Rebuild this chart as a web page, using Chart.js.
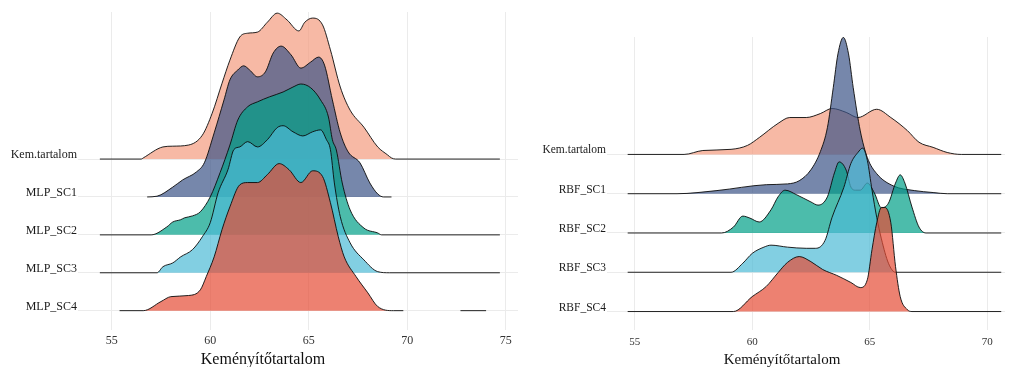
<!DOCTYPE html>
<html>
<head>
<meta charset="utf-8">
<script src="https://cdn.jsdelivr.net/npm/chart.js@4.4.1/dist/chart.umd.min.js"></script>
<style>
body { margin: 0; background: #fff; }
#wrap { position: relative; width: 1012px; height: 367px; }
canvas { position: absolute; top: 0; }
.axis-title { position: absolute; width: 300px; text-align: center; font-family: 'Liberation Serif', serif; color: #111; line-height: 20px; }
</style>
</head>
<body>
<div id="wrap">
    <canvas id="mlp" width="519" height="367" style="left:0"></canvas>
    <canvas id="rbf" width="493" height="367" style="left:519px"></canvas>
    <div class="axis-title" style="left:113px;top:349px;font-size:16px">Keményítőtartalom</div>
    <div class="axis-title" style="left:632px;top:349px;font-size:15px">Keményítőtartalom</div>
</div>
<script>
'use strict'

// categories, top ridge first
const mlpCategories = ['Kem.tartalom', 'MLP_SC1', 'MLP_SC2', 'MLP_SC3', 'MLP_SC4']
const rbfCategories = ['Kem.tartalom', 'RBF_SC1', 'RBF_SC2', 'RBF_SC3', 'RBF_SC4']

const mlpTicks = [55, 60, 65, 70, 75]
const rbfTicks = [55, 60, 65, 70]

// [x, ridge height] (height in ridge spacings)
const mlpKem = [[54.4, 0], [56.5, 0], [56.6, 0.03], [57.6, 0.32], [58.1, 0.34], [58.9, 0.37], [59.6, 0.63], [60.1, 1.21], [60.6, 2.0], [61.0, 2.61], [61.5, 3.22], [61.9, 3.32], [62.4, 3.35], [62.9, 3.61], [63.4, 3.85], [63.9, 3.67], [64.5, 3.38], [64.8, 3.61], [65.2, 3.72], [65.7, 3.54], [66.1, 2.88], [66.6, 1.9], [67.1, 1.29], [67.8, 0.84], [68.5, 0.32], [69.0, 0.11], [69.2, 0.03], [69.4, 0], [74.7, 0]]
const mlpSc1 = [[56.8, 0], [57.3, 0.02], [58.1, 0.26], [58.6, 0.45], [59.3, 0.66], [59.7, 0.9], [60.2, 1.69], [60.7, 2.56], [61.0, 3.09], [61.4, 3.35], [61.7, 3.46], [62.0, 3.35], [62.4, 3.17], [62.8, 3.3], [63.2, 3.8], [63.6, 3.98], [64.1, 3.75], [64.6, 3.4], [65.1, 3.56], [65.5, 3.69], [65.8, 3.48], [66.2, 2.56], [66.6, 1.69], [67.0, 1.19], [67.6, 0.9], [68.1, 0.37], [68.5, 0.08], [68.8, 0], [69.2, 0]]
const mlpSc2 = [[54.4, 0], [57.0, 0], [57.8, 0.21], [58.1, 0.34], [58.5, 0.4], [58.7, 0.45], [59.1, 0.5], [59.5, 0.61], [60.0, 1.0], [60.5, 1.64], [61.0, 2.37], [61.4, 3.03], [61.9, 3.38], [62.4, 3.51], [63.0, 3.64], [63.7, 3.77], [64.2, 3.9], [64.6, 3.98], [65.1, 3.88], [65.6, 3.56], [66.0, 3.11], [66.2, 2.51], [66.4, 2.24], [66.7, 1.37], [67.1, 0.66], [67.8, 0.18], [68.5, 0.05], [68.7, 0], [74.7, 0]]
const mlpSc3 = [[54.4, 0], [57.3, 0], [57.6, 0.16], [58.1, 0.26], [58.5, 0.42], [59.1, 0.61], [59.6, 0.95], [60.0, 1.32], [60.4, 2.11], [60.9, 2.72], [61.2, 3.25], [61.5, 3.32], [61.9, 3.46], [62.4, 3.32], [62.9, 3.51], [63.4, 3.83], [63.7, 3.88], [64.2, 3.72], [64.7, 3.61], [65.2, 3.72], [65.6, 3.77], [65.9, 3.51], [66.1, 3.25], [66.3, 2.37], [66.6, 1.48], [67.1, 0.79], [67.8, 0.34], [68.5, 0.03], [69.1, 0], [74.7, 0]]
const mlpSc4 = [[55.4, 0], [56.6, 0], [57.5, 0.24], [58.0, 0.37], [58.9, 0.4], [59.5, 0.55], [59.8, 0.9], [60.2, 1.42], [60.6, 2.14], [61.0, 2.74], [61.5, 3.32], [61.9, 3.38], [62.4, 3.38], [62.9, 3.59], [63.5, 3.88], [64.0, 3.72], [64.6, 3.38], [65.2, 3.69], [65.7, 3.54], [66.1, 2.85], [66.5, 1.95], [66.8, 1.42], [67.4, 0.9], [68.0, 0.47], [68.5, 0.11], [69.3, 0], [69.8, 0], [71.0, null], [72.7, 0], [74.0, 0]]

const rbfKem = [[54.7, 0], [57.1, 0], [57.9, 0.1], [59.1, 0.13], [59.8, 0.23], [60.3, 0.43], [61.1, 0.79], [61.6, 0.94], [62.3, 0.94], [62.9, 1.04], [63.4, 1.17], [64.0, 1.07], [64.5, 0.94], [65.3, 1.15], [65.9, 0.94], [66.6, 0.61], [67.1, 0.31], [67.7, 0.18], [68.3, 0.05], [68.9, 0], [70.6, 0]]
const rbfSc1 = [[54.7, 0], [56.8, 0], [58.5, 0.08], [60.6, 0.23], [61.5, 0.25], [62.0, 0.33], [62.5, 0.61], [62.9, 1.07], [63.2, 1.68], [63.45, 2.7], [63.65, 3.56], [63.88, 3.98], [64.1, 3.56], [64.3, 2.7], [64.6, 1.6], [64.9, 0.92], [65.3, 0.51], [66.0, 0.2], [66.9, 0.08], [67.7, 0.03], [68.3, 0], [70.6, 0]]
const rbfSc2 = [[54.7, 0], [58.7, 0], [59.2, 0.15], [59.6, 0.43], [59.9, 0.38], [60.3, 0.28], [60.8, 0.59], [61.1, 0.92], [61.4, 1.09], [61.9, 0.97], [62.5, 0.79], [62.8, 0.71], [63.2, 0.92], [63.5, 1.53], [63.7, 1.81], [64.0, 1.6], [64.2, 1.17], [64.4, 1.09], [64.6, 1.09], [64.9, 1.27], [65.2, 1.02], [65.5, 0.64], [65.8, 0.76], [66.1, 1.27], [66.3, 1.48], [66.5, 1.27], [66.8, 0.66], [67.1, 0.15], [67.4, 0], [70.6, 0]]
const rbfSc3 = [[54.7, 0], [59.1, 0], [59.6, 0.23], [60.0, 0.48], [60.5, 0.64], [60.8, 0.69], [61.5, 0.64], [62.3, 0.61], [62.7, 0.61], [63.1, 0.81], [63.4, 1.4], [63.9, 2.16], [64.2, 2.77], [64.5, 3.05], [64.7, 3.16], [64.9, 2.85], [65.1, 2.09], [65.3, 1.4], [65.5, 0.85], [65.8, 0.23], [66.1, 0], [70.6, 0]]
const rbfSc4 = [[54.7, 0], [59.2, 0], [60.0, 0.38], [60.6, 0.64], [61.1, 0.99], [61.5, 1.25], [62.0, 1.4], [62.5, 1.27], [63.0, 1.07], [63.6, 0.92], [64.2, 0.74], [64.6, 0.61], [64.9, 0.81], [65.1, 1.58], [65.3, 2.26], [65.5, 2.65], [65.65, 2.65], [65.9, 2.26], [66.1, 1.15], [66.3, 0.38], [66.6, 0.05], [66.8, 0], [70.6, 0]]

// npg palette, alpha 0.7
const fills = ['rgba(243,155,127,0.7)', 'rgba(60,84,136,0.7)', 'rgba(0,160,135,0.7)', 'rgba(77,187,213,0.7)', 'rgba(230,75,53,0.7)']

const gridColor = '#ebebeb'

const makeRidges = function(id, cats, series, ticks, o) {
    let n = cats.length
    let datasets = []
    // bottom ridge first so it ends up on top
    for (let i = n - 1; i >= 0; i--) {
        let base = n - i
        datasets.push({
            data: series[i].map(([x, h]) => ({ x: x, y: h === null ? null : base + h })),
            borderColor: '#0a0a0a',
            borderWidth: 0.9,
            backgroundColor: fills[i],
            fill: { value: base },
            pointRadius: 0,
            cubicInterpolationMode: 'monotone',
            spanGaps: false,
        })
    }

    new Chart(document.getElementById(id), {
        type: 'line',
        data: { datasets: datasets },
        options: {
            responsive: false,
            animation: false,
            devicePixelRatio: 1,
            layout: { padding: { top: o.top, right: o.right, left: 0, bottom: 0 } },
            plugins: { legend: { display: false }, tooltip: { enabled: false } },
            scales: {
                x: {
                    type: 'linear',
                    min: o.xmin,
                    max: o.xmax,
                    afterBuildTicks: (s) => { s.ticks = ticks.map(v => ({ value: v })) },
                    afterFit: (s) => { s.height = 37 },
                    grid: { color: gridColor, drawTicks: false },
                    border: { display: false },
                    ticks: {
                        padding: o.xpad,
                        color: '#333',
                        font: { family: 'Liberation Serif', size: o.tickSize },
                        maxRotation: 0,
                    },
                },
                y: {
                    type: 'linear',
                    min: o.ymin,
                    max: o.ymax,
                    afterBuildTicks: (s) => { s.ticks = cats.map((c, k) => ({ value: n - k })) },
                    afterFit: (s) => { s.width = o.yw },
                    grid: { color: gridColor, drawTicks: false },
                    border: { display: false },
                    ticks: {
                        padding: 1,
                        labelOffset: -4,
                        color: '#1a1a1a',
                        font: { family: 'Liberation Serif', size: o.catSize },
                        callback: (v) => cats[n - v],
                    },
                },
            },
        },
    })
}

makeRidges('mlp', mlpCategories, [mlpKem, mlpSc1, mlpSc2, mlpSc3, mlpSc4], mlpTicks,
    { top: 12, right: 1, yw: 78, xmin: 53.29, xmax: 75.62, ymin: 0.49, ymax: 8.88, xpad: 4, tickSize: 12, catSize: 12 })

makeRidges('rbf', rbfCategories, [rbfKem, rbfSc1, rbfSc2, rbfSc3, rbfSc4], rbfTicks,
    { top: 37, right: 7, yw: 88, xmin: 53.82, xmax: 70.76, ymin: 0.53, ymax: 7.99, xpad: 6, tickSize: 11, catSize: 11.5 })
</script>
</body>
</html>
